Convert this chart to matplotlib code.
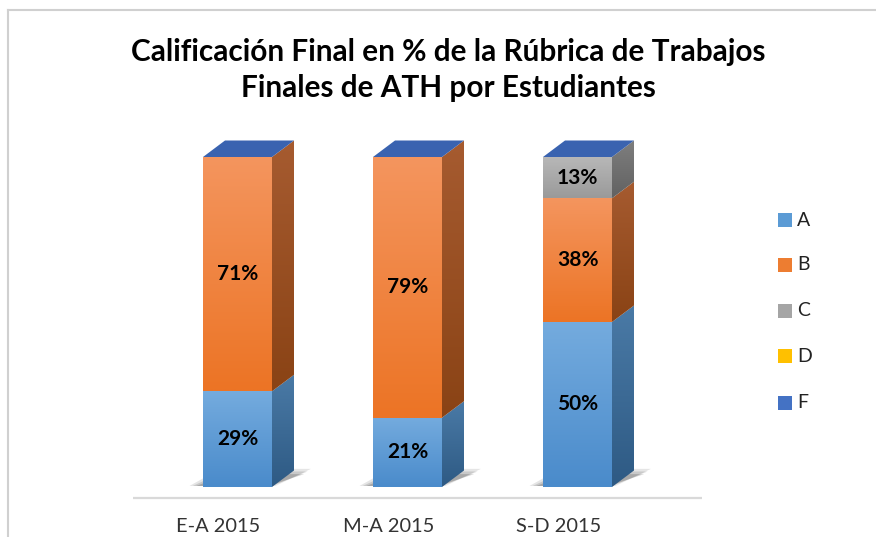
import numpy as np
import matplotlib
matplotlib.use("Agg")
import matplotlib.pyplot as plt
from matplotlib.patches import Polygon, Rectangle
from matplotlib.lines import Line2D
from matplotlib.colors import to_rgb

# data
categories = ["E-A 2015", "M-A 2015", "S-D 2015"]
grades = ["A", "B", "C", "D", "F"]
val_A = [29, 21, 50]
val_B = [71, 79, 37.5]
val_C = [0, 0, 12.5]
val_D = [0, 0, 0]
val_F = [0, 0, 0]
series = [val_A, val_B, val_C, val_D, val_F]

title = "Calificación Final en % de la Rúbrica de Trabajos\nFinales de ATH por Estudiantes"

# styles: (front top, front bottom, side top, side bottom)
face_cols = {
    "A": ("#74abde", "#4a8bcb", "#4a7aa6", "#2e5a84"),
    "B": ("#f4955e", "#ec7425", "#a65b30", "#8a4315"),
    "C": ("#b8b8b8", "#9a9a9a", "#7e7e7e", "#626262"),
    "D": ("#ffd24a", "#f5b800", "#b58a10", "#997300"),
    "F": ("#4f78c4", "#3a63b0", "#2f508f", "#23407a"),
}
legend_cols = ["#5b9bd5", "#ed7d31", "#a5a5a5", "#ffc000", "#4472c4"]
cap_col = "#3a63b0"

W, H = 876, 537
fig = plt.figure(figsize=(W / 100, H / 100), dpi=100)
ax = fig.add_axes([0, 0, 1, 1])
ax.axis("off")

# pixel mapping: x=0 centre at px 237.5, 170 px per category; y=0 at py 487, 3.3 px per %
px_per_x = 170.0
px_per_y = 3.3
x0_px = 237.5
y0_py = 487.0
xlim = ((0 - x0_px) / px_per_x, (W - x0_px) / px_per_x)
ylim = ((y0_py - H) / px_per_y, y0_py / px_per_y)

bar_w = 69 / px_per_x
dx = 22 / px_per_x
dy = 16.5 / px_per_y


def grad_fill(verts, c_top, c_bot, z):
    poly = Polygon(verts, closed=True, facecolor="none", edgecolor="none", zorder=z)
    ax.add_patch(poly)
    xs = [v[0] for v in verts]
    ys = [v[1] for v in verts]
    g = np.linspace(0, 1, 64)[:, None, None]
    img = np.array(to_rgb(c_top))[None, None, :] * (1 - g) + np.array(to_rgb(c_bot))[None, None, :] * g
    im = ax.imshow(img, extent=[min(xs), max(xs), min(ys), max(ys)], origin="upper",
                   aspect="auto", interpolation="bilinear", zorder=z)
    im.set_clip_path(poly)


for i, cat in enumerate(categories):
    xl = i - bar_w / 2
    xr = i + bar_w / 2
    # floor shadow
    for k, a in enumerate([0.10, 0.12, 0.16]):
        s = k * 0.02
        sh = Polygon([(xl - 0.08 + s, 0.3), (xr + 0.02 - s, 0.3),
                      (xr + dx + 0.10 - s, 5.5 - k * 0.8), (xl + 0.10 + s, 5.5 - k * 0.8)],
                     closed=True, facecolor="black", edgecolor="none", alpha=a, zorder=1)
        ax.add_patch(sh)
    base = 0.0
    for g, vals in zip(grades, series):
        v = vals[i]
        if v <= 0:
            continue
        top = base + v
        ft, fb, st, sb = face_cols[g]
        grad_fill([(xl, base), (xr, base), (xr, top), (xl, top)], ft, fb, 3)
        grad_fill([(xr, base), (xr + dx, base + dy), (xr + dx, top + dy), (xr, top)], st, sb, 3)
        ax.text(i, base + v / 2, f"{int(v + 0.5)}%", ha="center", va="center",
                fontsize=15, fontweight="bold", family="Lato", color="black", zorder=6)
        base = top
    # top cap
    cap = Polygon([(xl, base), (xr, base), (xr + dx, base + dy), (xl + dx, base + dy)],
                  closed=True, facecolor=cap_col, edgecolor="none", zorder=4)
    ax.add_patch(cap)
    ax.text(i - 19 / px_per_x, (y0_py - 532) / px_per_y, cat, ha="center", va="baseline",
            fontsize=14.4, family="Lato", color="#333333", zorder=6)

# floor line
ax.plot([(133 - x0_px) / px_per_x, (702 - x0_px) / px_per_x], [(y0_py - 498) / px_per_y] * 2,
        color="#d9d9d9", lw=1.6, zorder=2, solid_capstyle="butt")

ax.set_xlim(*xlim)
ax.set_ylim(*ylim)

# title
fig.text(448 / W, 1 - 70 / H, title, ha="center", va="center", fontsize=21.4,
         fontweight="bold", family="Lato", color="black", linespacing=1.37)

# legend
leg_y = [220, 265, 311, 356, 403]
for g, c, yp in zip(grades, legend_cols, leg_y):
    fig.patches.append(Rectangle(((778) / W, 1 - (yp + 7) / H), 14 / W, 14 / H,
                                 transform=fig.transFigure, facecolor=c, edgecolor="none"))
    fig.text(797 / W, 1 - yp / H, g, ha="left", va="center", fontsize=14,
             family="Lato", color="#222222")

# chart border
fig.lines.append(Line2D([7.5 / W, 7.5 / W], [0, 1 - 10 / H], transform=fig.transFigure,
                        color="#d0d0d0", lw=1.5))
fig.lines.append(Line2D([7.5 / W, 1], [1 - 10 / H, 1 - 10 / H], transform=fig.transFigure,
                        color="#d0d0d0", lw=1.5))

fig.savefig("out.png", dpi=100)
